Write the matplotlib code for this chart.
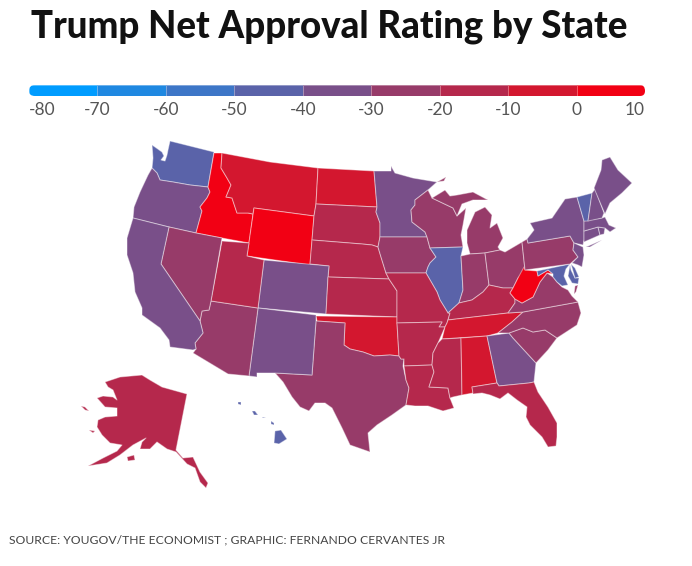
import matplotlib
matplotlib.use("Agg")
import matplotlib.pyplot as plt
import numpy as np
from matplotlib.collections import PolyCollection
from matplotlib.colors import BoundaryNorm, ListedColormap
from matplotlib.patches import FancyBboxPatch

plt.rcParams['font.family'] = ['Lato', 'DejaVu Sans']

TITLE = "Trump Net Approval Rating by State"
SOURCE = "SOURCE: YOUGOV/THE ECONOMIST ; GRAPHIC: FERNANDO CERVANTES JR"
BIN_EDGES = [-80, -70, -60, -50, -40, -30, -20, -10, 0, 10]
BIN_COLORS = ["#009CFF", "#1F88E1", "#3D76C7", "#5A63A9", "#794F89", "#973B69", "#B5284C", "#D3172F", "#F20014"]

# Net approval per state
NET_APPROVAL = {
    "WA": -45, "OR": -35, "CA": -35, "ID": 5, "MT": -5, "WY": 5, "NV": -25, "UT": -15, "AZ": -25,
    "CO": -35, "NM": -35, "ND": -5, "SD": -15, "NE": -15, "KS": -15, "OK": -5, "TX": -25, "MN": -35,
    "IA": -25, "MO": -15, "AR": -15, "LA": -15, "WI": -25, "IL": -45, "MI": -25, "IN": -25, "OH": -25,
    "KY": -15, "TN": -5, "MS": -15, "AL": -5, "GA": -35, "FL": -15, "SC": -25, "NC": -25, "VA": -25,
    "WV": 5, "PA": -25, "NY": -35, "VT": -45, "NH": -35, "ME": -35, "MA": -35, "RI": -35, "CT": -35,
    "NJ": -35, "DE": -45, "MD": -45, "AK": -15, "HI": -45,
}

# State outlines in the map's own plane
SHAPES = {
    "WA": [[(170,141),(214,152),(208,187),(190,185),(173,182),(160,180),(157,173),(152,168),(153,158),(152,145),(155,147),(162,152),(164,156),(161,160),(165,161),(167,155),(168,150)]],
    "OR": [[(152,168),(157,173),(160,180),(173,182),(190,185),(208,187),(210,192),(207,198),(200,207),(202,211),(196,233),(169,227),(133,218),(134,207),(140,192),(148,175)]],
    "ID": [[(214,153),(222,153),(221,168),(227,178),(231,185),(226,197),(232,198),(237,213),(248,213),(253,214),(249,243),(222,238),(196,233),(202,211),(200,207),(207,198),(210,192),(208,187)]],
    "MT": [[(222,153),(270,162),(318,168),(316,204),(314,216),(254,208),(253,214),(248,213),(237,213),(232,198),(226,197),(231,185),(227,178),(221,168)]],
    "WY": [[(254,208),(314,216),(310,265),(247,256)]],
    "ND": [[(318,168),(374,171),(377,207),(316,204)]],
    "SD": [[(316,204),(377,207),(376,212),(380,223),(380,237),(378,247),(372,245),(362,244),(312,240),(314,216)]],
    "NE": [[(312,240),(362,244),(372,245),(378,247),(381,257),(386,273),(389,279),(328,277),(329,266),(310,264)]],
    "CO": [[(264,260),(329,266),(328,277),(326,314),(258,308)]],
    "KS": [[(328,277),(389,279),(393,285),(397,291),(397,317),(326,314)]],
    "OK": [[(316,316),(397,317),(397,323),(399,356),(390,355),(374,356),(363,352),(350,349),(344,345),(345,323),(317,321)]],
    "TX": [[(316,321),(345,323),(344,345),(350,349),(363,352),(374,356),(390,355),(399,356),(401,359),(404,359),(403,366),(406,380),(409,388),(406,405),(392,415),(377,425),(368,433),(370,452),(350,445),(342,428),(332,408),(325,403),(315,403),(309,411),(300,407),(292,397),(283,382),(275,373),(312,375)]],
    "NM": [[(258,308),(316,315),(316,321),(312,375),(275,373),(257,373),(257,377),(249,376)]],
    "AZ": [[(211,301),(258,308),(249,376),(228,374),(193,353),(196,349),(195,343),(203,333),(200,321),(202,311),(209,310)]],
    "UT": [[(222,241),(249,243),(247,256),(264,260),(258,308),(211,301)]],
    "NV": [[(169,227),(196,233),(222,238),(211,301),(209,310),(202,311),(200,321),(161,264)]],
    "CA": [[(133,218),(169,227),(161,264),(200,321),(203,333),(195,343),(196,349),(193,350),(170,347),(169,340),(160,328),(142,315),(142,308),(135,292),(133,273),(127,255),(127,238)]],
    "MN": [[(374,171),(391,171),(391,166),(395,173),(413,178),(437,182),(428,190),(415,200),(415,205),(411,210),(412,222),(425,232),(427,237),(380,237),(380,223),(376,212),(377,207)]],
    "IA": [[(380,237),(427,237),(430,248),(436,257),(430,263),(428,267),(426,273),(386,273),(381,257),(378,247)]],
    "WI": [[(415,205),(415,200),(428,190),(432,198),(453,208),(457,216),(466,208),(463,225),(461,235),(463,247),(430,248),(427,237),(425,232),(412,222),(411,210)]],
    "MI": [[(432,198),(445,190),(450,196),(457,195),(473,192),(488,200),(473,200),(462,204),(457,216),(453,208)],
           [(470,254),(467,243),(467,230),(475,212),(485,207),(492,215),(490,228),(497,223),(503,238),(498,247),(500,250),(485,253)],
           [(437,182),(446,177),(444,181)]],
    "IL": [[(430,248),(463,247),(461,256),(463,290),(459,303),(448,313),(440,300),(437,292),(426,273),(428,267),(430,263),(436,257)]],
    "IN": [[(461,256),(470,254),(485,253),(489,285),(483,292),(472,300),(459,303),(463,290)]],
    "OH": [[(485,253),(500,250),(505,252),(522,242),(525,270),(518,278),(513,288),(503,288),(489,285)]],
    "MO": [[(386,273),(426,273),(437,292),(440,300),(448,313),(450,313),(448,320),(447,323),(445,327),(439,327),(442,322),(397,323),(397,291),(393,285),(389,279)]],
    "AR": [[(397,323),(442,322),(439,327),(445,327),(438,343),(433,353),(432,365),(404,366),(404,359),(401,359),(399,356)]],
    "LA": [[(404,366),(432,365),(434,372),(429,387),(448,388),(450,398),(454,408),(443,411),(428,406),(415,406),(406,405),(409,388),(406,380)]],
    "KY": [[(450,313),(448,313),(459,303),(472,300),(483,292),(489,285),(503,288),(513,288),(510,293),(515,299),(515,303),(508,313),(448,320)]],
    "TN": [[(448,320),(508,313),(523,312),(512,322),(498,333),(487,336),(442,339),(445,327),(447,323)]],
    "MS": [[(442,339),(461,338),(462,395),(453,397),(450,398),(448,388),(429,387),(434,372),(432,365),(433,353),(438,343)]],
    "AL": [[(461,338),(487,336),(497,383),(472,387),(473,393),(462,395)]],
    "GA": [[(487,336),(509,333),(513,338),(536,363),(534,382),(529,383),(499,386),(497,383)]],
    "FL": [[(472,387),(497,383),(499,386),(529,383),(534,382),(538,392),(548,407),(557,423),(557,437),(556,446),(548,447),(542,437),(530,425),(526,417),(527,407),(517,400),(508,393),(500,399),(490,395),(482,393),(473,394)]],
    "SC": [[(509,333),(523,328),(533,332),(545,330),(557,338),(548,350),(536,363),(513,338)]],
    "NC": [[(498,333),(512,322),(523,312),(578,302),(581,313),(577,325),(557,338),(545,330),(533,332),(523,328),(509,333)]],
    "VA": [[(508,313),(515,303),(515,299),(522,303),(533,297),(540,282),(547,273),(553,277),(557,282),(562,287),(568,290),(572,296),(578,302),(523,312)],
           [(578,285),(575,286),(574,294),(576,292)]],
    "WV": [[(524,267),(525,270),(537,271),(538,276),(548,270),(553,274),(547,273),(540,282),(533,297),(522,303),(515,299),(510,293),(513,288),(518,278)]],
    "MD": [[(537,271),(570,264),(566,269),(564,276),(568,285),(562,286),(557,282),(553,277),(553,274),(548,270),(538,276)],
           [(570,265),(571,270),(575,278),(579,278),(578,284),(572,283),(568,276)]],
    "DE": [[(571,264),(575,268),(579,277),(575,278)]],
    "PA": [[(522,242),(527,239),(528,243),(570,236),(574,243),(573,250),(578,257),(570,264),(525,270)]],
    "NY": [[(528,243),(527,239),(534,230),(530,223),(552,218),(565,199),(577,197),(584,221),(584,240),(583,245),(574,243),(570,236)],
           [(586,247),(602,240),(590,247)]],
    "NJ": [[(574,243),(583,247),(584,255),(582,267),(578,265),(572,263),(578,257),(573,250)]],
    "CT": [[(584,231),(598,227),(600,235),(584,242)]],
    "RI": [[(598,227),(605,228),(604,234),(600,235)]],
    "MA": [[(584,221),(602,218),(605,217),(609,225),(616,228),(610,232),(605,228),(598,227),(584,231)]],
    "VT": [[(577,197),(592,193),(590,207),(588,221),(584,221)]],
    "NH": [[(592,193),(595,189),(604,213),(602,218),(588,221),(590,207)]],
    "ME": [[(594,188),(601,170),(602,160),(610,157),(618,170),(632,183),(622,193),(610,203),(605,214)]],
    "AK": [[(105,382),(120,377),(142,375),(150,380),(162,387),(187,394),(176,450),(183,458),(193,457),(200,472),(208,483),(206,488),(200,482),(195,468),(187,464),(176,452),(167,449),(157,442),(150,449),(140,449),(142,442),(146,438),(133,445),(120,455),(107,463),(88,466),(103,458),(117,451),(122,445),(110,443),(102,435),(97,427),(98,420),(105,417),(117,416),(117,408),(105,407),(97,398),(103,396),(113,397),(117,400),(113,390),(108,387)],
           [(127,457),(134,455),(135,460),(128,461)],
           [(89,430),(95,431),(93,433)],
           [(81,406),(85,407),(89,411),(85,410)]],
    "HI": [[(238,402),(241,402),(241,405),(238,404)],
           [(252,411),(255,411),(258,415),(254,415)],
           [(262,417),(266,418),(263,418)],
           [(271,421),(274,423),(274,425),(271,424)],
           [(275,431),(281,430),(287,439),(279,444),(274,443)]],
}

W, H = 692, 566
fig = plt.figure(figsize=(W / 100, H / 100), dpi=100, facecolor="white")
ax = fig.add_axes([0, 0, 1, 1])
ax.set_xlim(0, W)
ax.set_ylim(H, 0)
ax.axis("off")

cmap = ListedColormap(BIN_COLORS)
norm = BoundaryNorm(BIN_EDGES, cmap.N)

verts, vals = [], []
for st, parts in SHAPES.items():
    for p in parts:
        verts.append(p)
        vals.append(NET_APPROVAL[st])
ax.add_collection(PolyCollection(verts, array=np.array(vals, float), cmap=cmap, norm=norm,
                                 edgecolors=(1, 1, 1, 0.42), linewidths=0.75, closed=True))

ax.text(31, 27, TITLE, fontsize=26.4, fontweight="black", color="#111111", ha="left", va="center")
ax.text(9, 540, SOURCE, fontsize=8.75, color="#444444", ha="left", va="center")

# Colour scale
cax = fig.add_axes([29 / W, 1 - 96 / H, 616 / W, 11 / H])
X, Y = np.meshgrid(BIN_EDGES, [0, 1])
mids = np.array([(a + b) / 2 for a, b in zip(BIN_EDGES[:-1], BIN_EDGES[1:])])
mesh = cax.pcolormesh(X, Y, mids[None, :], cmap=cmap, norm=norm, edgecolors=(1, 1, 1, 0.35), linewidth=0.6)
cax.set_xlim(BIN_EDGES[0], BIN_EDGES[-1])
cax.set_ylim(0, 1)
for s in cax.spines.values():
    s.set_visible(False)
cax.set_yticks([])
cax.set_xticks(BIN_EDGES)
cax.set_xticklabels([str(v) for v in BIN_EDGES], fontsize=12.5, color="#555555")
cax.tick_params(axis="x", length=0, pad=4.5)
labels = cax.get_xticklabels()
labels[0].set_ha("left")
labels[-1].set_ha("right")
clip = FancyBboxPatch((29, 85), 616, 11, boxstyle="round,pad=0,rounding_size=5.5",
                      transform=ax.transData, facecolor="none", edgecolor="none")
ax.add_patch(clip)
mesh.set_clip_path(clip)

fig.savefig("out.png", dpi=100)
